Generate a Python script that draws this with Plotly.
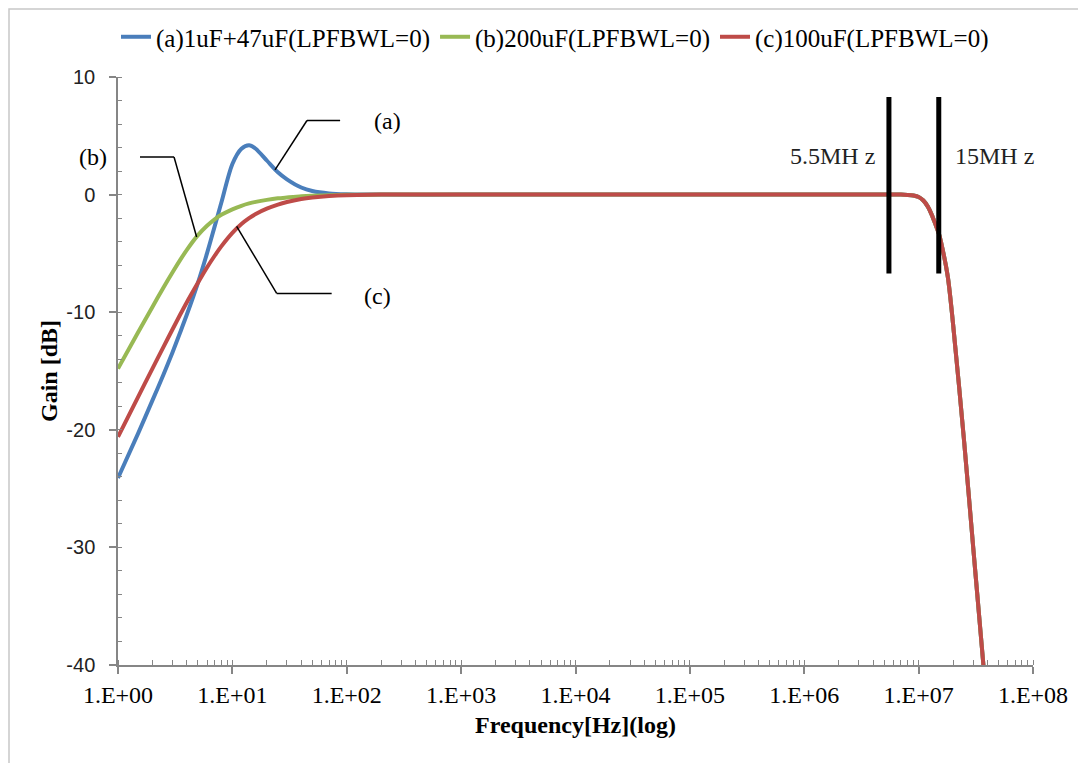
import math
import plotly.graph_objects as go

# ---- data ----
freq_low = [1, 1.5, 2, 2.5, 3, 3.5, 4, 5, 6, 7, 8, 10, 12, 14, 16, 20, 25, 30, 40, 50, 70, 100, 200]
gain_a_low = [-24.1, -20.3, -17.5, -15.3, -13.4, -11.7, -10.2, -7.5, -5.0, -2.7, -0.7, 2.6, 3.9, 4.2, 3.9,
              2.9, 1.9, 1.3, 0.6, 0.3, 0.1, 0.03, 0.0]
gain_b_low = [-14.8, -11.7, -9.55, -7.9, -6.6, -5.55, -4.7, -3.45, -2.65, -2.1, -1.72, -1.25, -0.95, -0.75,
              -0.62, -0.45, -0.32, -0.25, -0.15, -0.1, -0.05, -0.02, 0.0]
gain_c_low = [-20.6, -17.2, -14.8, -12.95, -11.45, -10.2, -9.15, -7.5, -6.2, -5.2, -4.4, -3.25, -2.5, -2.0,
              -1.65, -1.2, -0.85, -0.63, -0.38, -0.25, -0.12, -0.05, 0.0]
freq_high = [1e3, 1e4, 1e5, 1e6, 3e6, 5e6, 7e6, 8e6, 9e6, 1e7, 1.1e7, 1.2e7, 1.3e7, 1.4e7, 1.5e7,
             1.6e7, 1.8e7, 2e7, 2.5e7, 3e7, 3.5e7, 3.7e7]
gain_high = [0, 0, 0, 0, 0, 0, 0, -0.03, -0.08, -0.2, -0.5, -1.0, -1.7, -2.5, -3.3,
             -4.4, -7.0, -11.0, -21.0, -30.0, -37.5, -40.2]

series_names = ["(a)1uF+47uF(LPFBWL=0)", "(b)200uF(LPFBWL=0)", "(c)100uF(LPFBWL=0)"]
series_colors = ["#4A7EBB", "#98B954", "#BE4B48"]

x_tickvals = [1, 10, 100, 1e3, 1e4, 1e5, 1e6, 1e7, 1e8]
x_ticktext = ["1.E+00", "1.E+01", "1.E+02", "1.E+03", "1.E+04", "1.E+05", "1.E+06", "1.E+07", "1.E+08"]
y_tickvals = [-40, -30, -20, -10, 0, 10]
y_ticktext = ["-40", "-30", "-20", "-10", "0", "10"]
grid_vals = [-30, -20, -10, 0]

marker_freqs = [5.5e6, 1.5e7]
marker_labels = ["5.5MH z", "15MH z"]

SERIF = "Liberation Serif"
SANS = "Liberation Sans"

fig = go.Figure()
for name, color, low in zip(series_names, series_colors, [gain_a_low, gain_b_low, gain_c_low]):
    fig.add_trace(go.Scatter(
        x=freq_low + freq_high, y=low + gain_high, mode="lines", name=name,
        line=dict(color=color, width=4, shape="spline", smoothing=0.8),
    ))


def px(f):
    return math.log10(f) / 8.0


def py(db):
    return (db + 40.0) / 50.0


shapes = []
# outer light border (top / left only visible)
shapes.append(dict(type="rect", xref="paper", yref="paper", x0=-109.0 / 915, x1=1.5, y0=-1.0,
                   y1=1 + 68.0 / 588, line=dict(color="#C8C8C8", width=1.5),
                   fillcolor="rgba(0,0,0,0)", layer="below"))
# marker bars
for f in marker_freqs:
    shapes.append(dict(type="line", xref="paper", yref="paper", x0=px(f), x1=px(f), y0=py(-6.7), y1=py(8.3),
                       line=dict(color="black", width=5)))
# callout lines
callouts = [
    [(23.6, 2.1), (44.9, 6.3), (87.5, 6.3)],
    [(1.557, 3.2), (3.09, 3.2), (4.87, -3.6)],
    [(10.9, -2.7), (24.4, -8.4), (73.8, -8.4)],
]
for pts in callouts:
    for (f0, d0), (f1, d1) in zip(pts[:-1], pts[1:]):
        shapes.append(dict(type="line", xref="paper", yref="paper", x0=px(f0), x1=px(f1),
                           y0=py(d0), y1=py(d1), line=dict(color="black", width=1.5)))

lab_font = dict(family=SERIF, size=24, color="black")
mk_font = dict(family=SERIF, size=24, color="#222222")
common = dict(xref="paper", yref="paper", showarrow=False, xanchor="center", yanchor="middle")
annotations = [
    dict(text="(a)", x=px(229), y=py(6.3), font=lab_font, **common),
    dict(text="(b)", x=-25.0 / 915, y=py(3.2), font=lab_font, **common),
    dict(text="(c)", x=px(187), y=py(-8.6), font=lab_font, **common),
    dict(text=marker_labels[0], x=px(1.75e6), y=py(3.3), font=mk_font, **common),
    dict(text=marker_labels[1], x=px(4.6e7), y=py(3.3), font=mk_font, **common),
]

fig.update_layout(
    width=1078, height=755,
    margin=dict(l=110, r=53, t=69, b=98, autoexpand=False),
    paper_bgcolor="white", plot_bgcolor="white",
    showlegend=True,
    legend=dict(orientation="h", x=0.4776, xanchor="center", y=1.068, yanchor="middle",
                font=dict(family=SERIF, size=25, color="black"), itemwidth=30,
                bgcolor="rgba(0,0,0,0)"),
    xaxis=dict(
        type="log", range=[0, 8], tickmode="array", tickvals=x_tickvals, ticktext=x_ticktext,
        showgrid=False, zeroline=False, showline=True, linecolor="#868686", linewidth=1.5,
        ticks="outside", ticklen=7, tickcolor="#868686", tickwidth=1.5,
        tickfont=dict(family=SERIF, size=24, color="black"),
        minor=dict(dtick="D1", ticks="inside", ticklen=5, tickcolor="#868686", tickwidth=1.2, showgrid=False),
        title=dict(text="<b>Frequency[Hz](log)</b>", font=dict(family=SERIF, size=24, color="black"), standoff=10),
    ),
    yaxis=dict(
        range=[-40, 10], tickmode="array", tickvals=y_tickvals, ticktext=y_ticktext,
        showgrid=False, zeroline=False, showline=True, linecolor="#868686", linewidth=1.5,
        ticks="outside", ticklen=7, tickcolor="#868686", tickwidth=1.5,
        tickfont=dict(family=SANS, size=20, color="#222222"), ticklabelstandoff=10,
        minor=dict(tickmode="linear", tick0=0, dtick=2, ticks="inside", ticklen=4, tickcolor="#868686",
                   tickwidth=1.2, showgrid=False),
        title=dict(text="<b>Gain [dB]</b>", font=dict(family=SERIF, size=24, color="black"), standoff=2),
    ),
    yaxis2=dict(
        range=[-40, 10], overlaying="y", anchor="x", side="left",
        tickmode="array", tickvals=grid_vals, showticklabels=False, ticks="",
        showgrid=True, gridcolor="#A6A6A6", gridwidth=1.5, zeroline=False, showline=False,
    ),
    shapes=shapes,
    annotations=annotations,
)

fig.write_html("out.html")
